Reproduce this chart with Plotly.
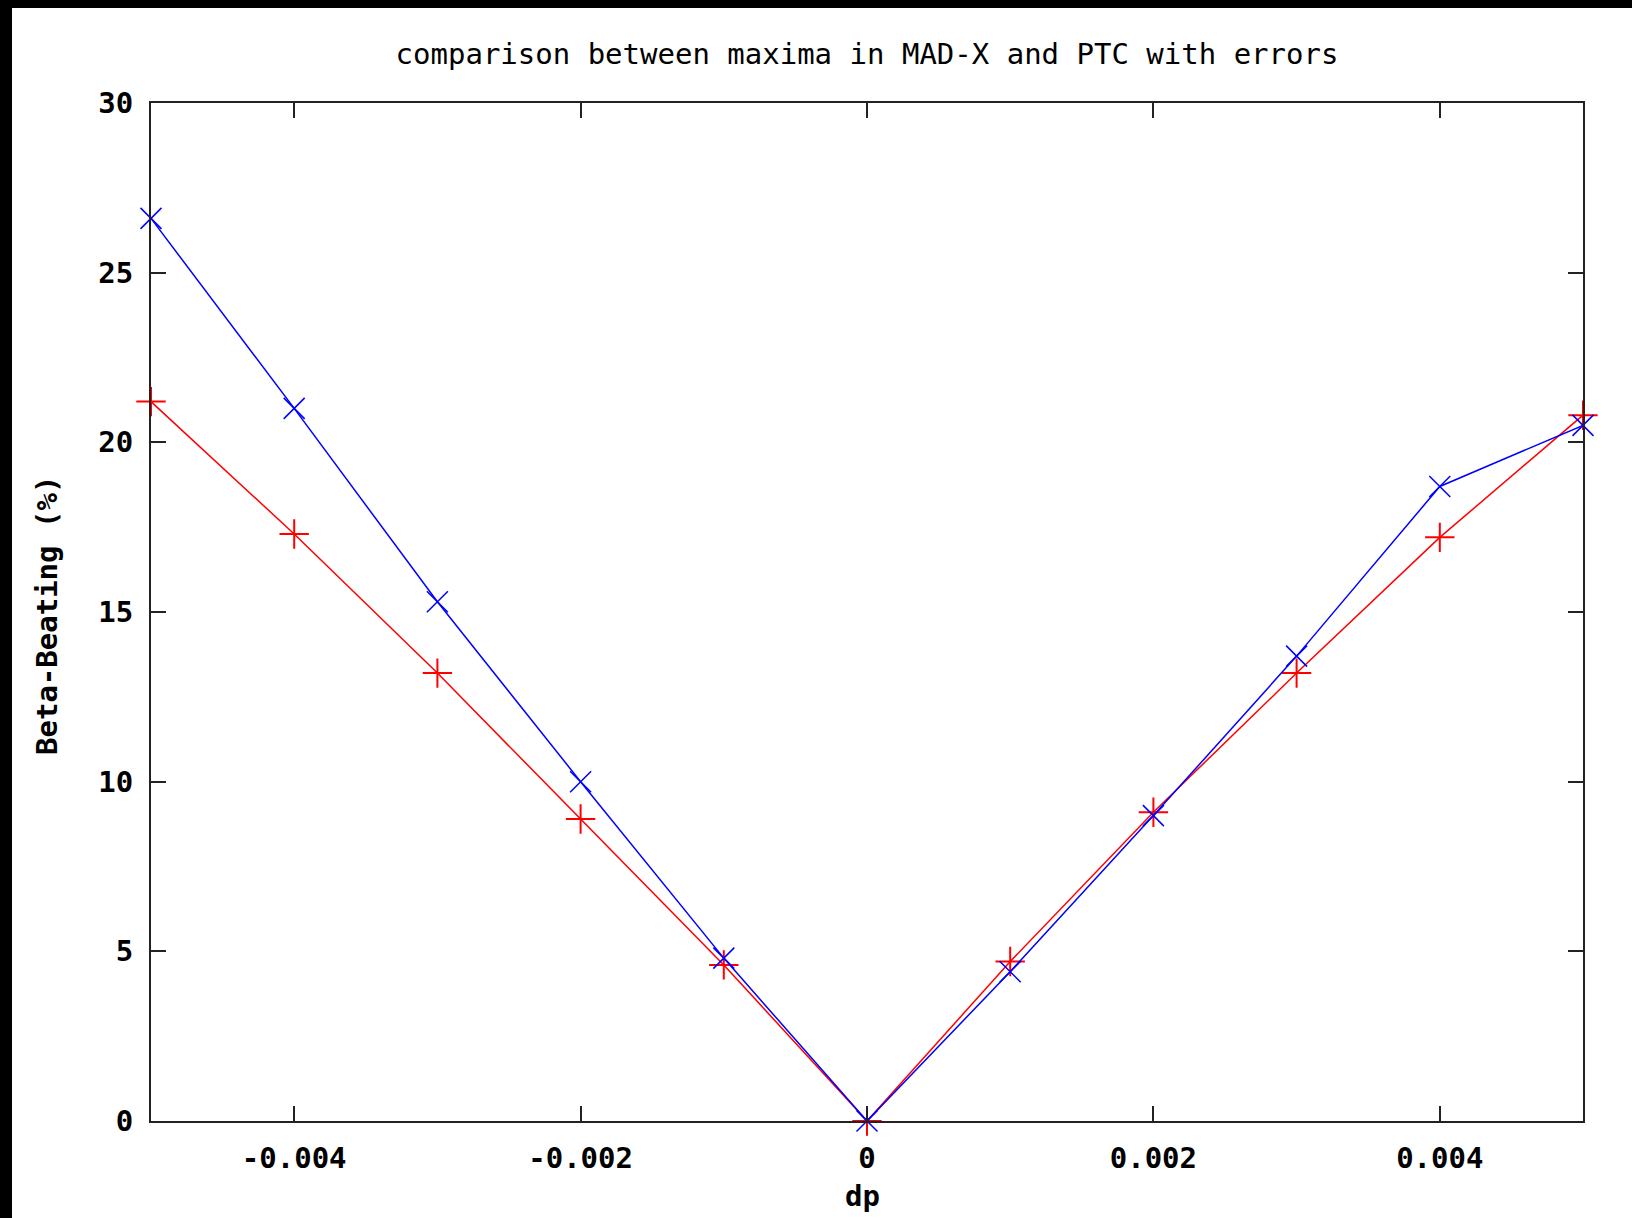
import plotly.graph_objects as go

# momentum offset and beta-beating maxima
dp = [-0.005, -0.004, -0.003, -0.002, -0.001, 0.0, 0.001, 0.002, 0.003, 0.004, 0.005]
ptc_beating = [21.2, 17.3, 13.2, 8.9, 4.6, 0.0, 4.7, 9.1, 13.2, 17.2, 20.8]
madx_beating = [26.6, 21.0, 15.3, 10.0, 4.8, 0.0, 4.4, 9.0, 13.7, 18.7, 20.5]

x_tickvals = [-0.004, -0.002, 0, 0.002, 0.004]
x_ticktext = ["-0.004", "-0.002", "0", "0.002", "0.004"]
y_tickvals = [0, 5, 10, 15, 20, 25, 30]
y_ticktext = ["0", "5", "10", "15", "20", "25", "30"]

W, H = 1632, 1218
ML, MR, MT, MB = 151, 49, 103, 97
PW, PH = W - ML - MR, H - MT - MB

FONT = "DejaVu Sans Mono"
FS = 29

fig = go.Figure()
fig.add_trace(go.Scatter(
    x=dp, y=ptc_beating, mode="lines+markers", name="PTC", cliponaxis=False,
    line=dict(color="#ff0000", width=1.5),
    marker=dict(symbol="cross-thin", size=21, line=dict(color="#ff0000", width=2)),
))
fig.add_trace(go.Scatter(
    x=dp, y=madx_beating, mode="lines+markers", name="MAD-X", cliponaxis=False,
    line=dict(color="#0000ff", width=1.5),
    marker=dict(symbol="x-thin", size=21, line=dict(color="#0000ff", width=1.5)),
))

axis_common = dict(
    showline=True, linecolor="#222222", linewidth=2, mirror="ticks",
    ticks="inside", ticklen=15, tickwidth=2, tickcolor="#222222",
    showgrid=False, zeroline=False,
    tickfont=dict(family=FONT, size=FS, color="black", weight="bold"),
)

fig.update_layout(
    width=W, height=H,
    margin=dict(l=ML, r=MR, t=MT, b=MB),
    paper_bgcolor="white", plot_bgcolor="white",
    showlegend=False,
    title=dict(
        text="comparison between maxima in MAD-X and PTC with errors",
        font=dict(family=FONT, size=FS, color="black"),
        x=0.5, xref="paper", xanchor="center",
        y=1 - 54 / H, yref="container", yanchor="middle",
    ),
    xaxis=dict(range=[-0.005, 0.005], tickvals=x_tickvals, ticktext=x_ticktext,
               ticklabelstandoff=10, **axis_common),
    yaxis=dict(range=[0, 30], tickvals=y_tickvals, ticktext=y_ticktext,
               ticklabelstandoff=10, **axis_common),
    annotations=[
        dict(text="Beta-Beating (%)", textangle=-90,
             x=(47 - ML) / PW, y=(H - MB - 615) / PH, xref="paper", yref="paper",
             xanchor="center", yanchor="middle", showarrow=False,
             font=dict(family=FONT, size=FS, color="black", weight="bold")),
        dict(text="dp",
             x=(862 - ML) / PW, y=(H - MB - 1215) / PH, xref="paper", yref="paper",
             xanchor="center", yanchor="bottom", showarrow=False,
             font=dict(family=FONT, size=FS, color="black", weight="bold")),
    ],
    shapes=[
        # dark frame strips along the left and top edges of the page
        dict(type="rect", xref="paper", yref="paper", layer="above",
             x0=-ML / PW, x1=(12 - ML) / PW, y0=-MB / PH, y1=1 + MT / PH,
             fillcolor="black", line=dict(width=0)),
        dict(type="rect", xref="paper", yref="paper", layer="above",
             x0=-ML / PW, x1=1 + MR / PW, y0=1 + (MT - 8) / PH, y1=1 + MT / PH,
             fillcolor="black", line=dict(width=0)),
    ],
)

fig.write_html("out.html")
